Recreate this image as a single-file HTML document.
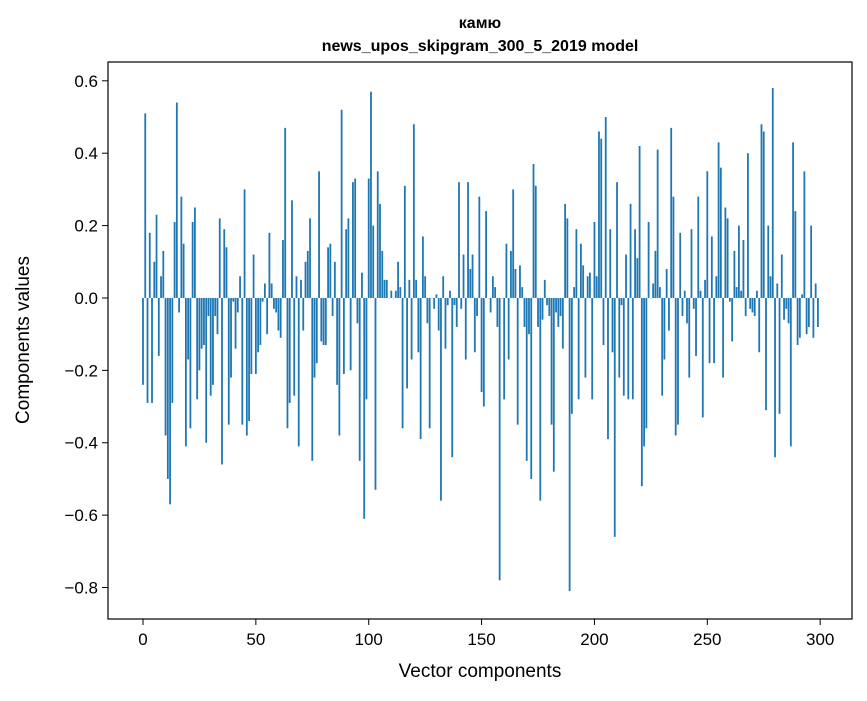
<!DOCTYPE html>
<html><head><meta charset="utf-8"><style>
body{margin:0;background:#fff;}
svg text{font-family:"Liberation Sans","DejaVu Sans",sans-serif;fill:#000;}
</style></head><body>
<svg id="chart" width="867" height="696" xmlns="http://www.w3.org/2000/svg">
<rect width="867" height="696" fill="#fff"/>
<text x="480" y="28" text-anchor="middle" font-size="16" font-weight="bold">камю</text>
<text x="480" y="51" text-anchor="middle" font-size="16" font-weight="bold">news_upos_skipgram_300_5_2019 model</text>
<g id="bars"></g>
<g id="axes"></g>
<text x="480" y="677" text-anchor="middle" font-size="19">Vector components</text>
<text transform="translate(29,340) rotate(-90)" text-anchor="middle" font-size="19">Components values</text>
</svg>
<script>
const values = [-0.24,0.51,-0.29,0.18,-0.29,0.10,0.23,-0.16,0.06,0.13,-0.38,-0.50,-0.57,-0.29,0.21,0.54,-0.04,0.28,0.15,-0.41,-0.17,-0.36,0.21,0.25,-0.28,-0.20,-0.14,-0.13,-0.40,-0.05,
-0.27,-0.24,-0.05,-0.10,0.22,-0.46,0.19,0.14,-0.35,-0.22,-0.01,-0.14,-0.04,0.06,-0.35,0.30,-0.38,-0.34,-0.21,0.12,
-0.21,-0.15,-0.13,-0.01,0.04,-0.10,0.18,0.04,-0.03,-0.04,-0.09,-0.11,0.16,0.47,-0.36,-0.29,0.27,-0.27,0.06,-0.41,
0.05,-0.09,0.10,0.13,0.22,-0.45,-0.22,-0.18,0.35,-0.12,-0.13,-0.13,0.14,0.15,-0.05,0.10,-0.24,-0.38,0.52,-0.21,
0.19,0.22,-0.20,0.32,0.33,-0.07,-0.45,0.07,-0.61,-0.28,0.33,0.57,0.20,-0.53,0.35,0.26,0.13,0.05,0.05,0.00,
0.02,0.00,0.02,0.10,0.03,-0.36,0.31,-0.25,0.05,-0.17,0.48,0.05,-0.15,-0.39,0.17,0.06,-0.07,-0.36,0.00,-0.03,
0.01,-0.09,-0.56,0.06,-0.14,-0.02,0.02,-0.44,-0.02,-0.08,0.32,-0.03,0.12,-0.17,0.32,0.08,0.12,-0.15,-0.05,0.28,
-0.26,-0.30,0.24,0.00,-0.04,0.06,0.03,-0.08,-0.78,0.00,-0.28,0.15,-0.17,0.13,0.30,0.08,-0.35,0.09,0.03,-0.08,
-0.45,-0.10,-0.50,0.37,0.31,-0.08,-0.56,-0.06,0.05,-0.02,-0.05,-0.35,-0.48,-0.04,-0.08,-0.05,-0.14,0.26,0.22,-0.81,
-0.32,0.03,0.19,-0.28,0.15,0.09,-0.22,0.06,0.07,-0.28,0.21,0.06,0.46,0.44,-0.13,0.50,-0.39,0.19,-0.15,-0.66,
0.32,-0.22,-0.02,-0.27,0.12,-0.28,0.26,-0.28,0.19,0.11,0.42,-0.52,-0.41,-0.36,0.21,0.00,0.04,0.13,0.41,0.03,
-0.27,-0.17,0.08,-0.09,0.47,0.28,-0.38,-0.35,0.18,-0.05,0.02,-0.07,-0.22,0.19,-0.03,-0.16,0.28,0.02,-0.33,0.05,
0.35,-0.18,0.17,-0.18,0.06,0.43,0.36,-0.22,0.25,0.22,-0.01,-0.12,0.13,0.03,0.20,0.02,0.16,-0.05,0.40,-0.03,
-0.04,-0.05,0.02,-0.15,0.48,0.46,-0.31,0.20,0.06,0.58,-0.44,0.04,-0.32,0.12,-0.06,-0.03,-0.07,-0.41,0.43,0.24,
-0.13,-0.11,0.01,0.35,-0.10,-0.08,0.20,-0.11,0.04,-0.08];
const xTicks = [0,50,100,150,200,250,300];
const yTicks = [0.6,0.4,0.2,0.0,-0.2,-0.4,-0.6,-0.8];
const yTickLabels = ["0.6","0.4","0.2","0.0","\u22120.2","\u22120.4","\u22120.6","\u22120.8"];

const L=108,R=852,T=62,B=619;
const xMin=-15.5,xMax=314.1,yMin=-0.887,yMax=0.652;
const xs=v=>L+(v-xMin)/(xMax-xMin)*(R-L);
const ys=v=>T+(yMax-v)/(yMax-yMin)*(B-T);
const NS="http://www.w3.org/2000/svg";
const bars=document.getElementById('bars');
const bw=0.8*(R-L)/(xMax-xMin);
values.forEach((v,i)=>{
  const r=document.createElementNS(NS,'rect');
  const y0=ys(0),y1=ys(v);
  r.setAttribute('x',xs(i)-bw/2);
  r.setAttribute('y',Math.min(y0,y1));
  r.setAttribute('width',bw);
  r.setAttribute('height',Math.max(Math.abs(y1-y0),0.3));
  r.setAttribute('fill','#1f77b4');
  
  
  bars.appendChild(r);
});
const ax=document.getElementById('axes');
const frame=document.createElementNS(NS,'rect');
frame.setAttribute('x',L);frame.setAttribute('y',T);frame.setAttribute('width',R-L);frame.setAttribute('height',B-T);
frame.setAttribute('fill','none');frame.setAttribute('stroke','#000');frame.setAttribute('stroke-width','1.2');


ax.appendChild(frame);
xTicks.forEach(t=>{
  const x=xs(t);
  const l=document.createElementNS(NS,'line');
  l.setAttribute('x1',x);l.setAttribute('x2',x);l.setAttribute('y1',B);l.setAttribute('y2',B+6);l.setAttribute('stroke','#000');
  
  
  ax.appendChild(l);
  const tx=document.createElementNS(NS,'text');
  tx.setAttribute('x',x);tx.setAttribute('y',B+26);tx.setAttribute('text-anchor','middle');tx.setAttribute('font-size','17');
  tx.textContent=t;
  
  
  ax.appendChild(tx);
});
yTicks.forEach((t,k)=>{
  const y=ys(t);
  const l=document.createElementNS(NS,'line');
  l.setAttribute('x1',L-6);l.setAttribute('x2',L);l.setAttribute('y1',y);l.setAttribute('y2',y);l.setAttribute('stroke','#000');
  
  
  ax.appendChild(l);
  const tx=document.createElementNS(NS,'text');
  tx.setAttribute('x',L-10);tx.setAttribute('y',y+6);tx.setAttribute('text-anchor','end');tx.setAttribute('font-size','17');
  tx.textContent=yTickLabels[k];
  
  
  ax.appendChild(tx);
});
</script>
</body></html>
